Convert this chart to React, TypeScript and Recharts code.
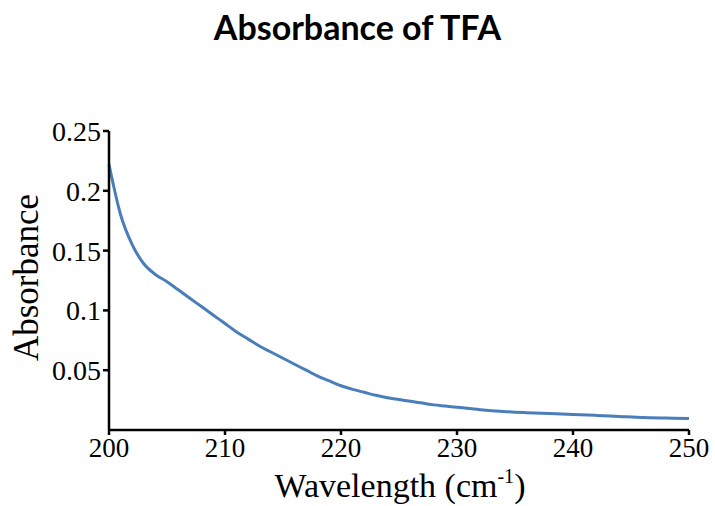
import { LineChart, Line, XAxis, YAxis, Label } from "recharts";

const wavelengths = [
  200, 201, 202, 203, 204, 205, 206, 207, 208, 209, 210, 211, 212, 213, 214, 215,
  216, 217, 218, 219, 220, 221, 222, 223, 224, 225, 226, 227, 228, 229, 230, 232,
  234, 236, 238, 240, 242, 244, 246, 248, 250,
];
const absorbance = [
  0.222, 0.18, 0.155, 0.139, 0.13, 0.124, 0.117, 0.11, 0.103, 0.096, 0.089, 0.082,
  0.076, 0.07, 0.065, 0.06, 0.055, 0.05, 0.045, 0.041, 0.037, 0.034, 0.0315, 0.029,
  0.027, 0.0255, 0.024, 0.0225, 0.021, 0.02, 0.019, 0.017, 0.0155, 0.0145, 0.0137, 0.013,
  0.0122, 0.0113, 0.0104, 0.01, 0.0097,
];
const xTicks = [200, 210, 220, 230, 240, 250];
const yTicks = [0.05, 0.1, 0.15, 0.2, 0.25];

const data = wavelengths.map((w, i) => ({ w, a: absorbance[i] }));

const serif = "'Liberation Serif', 'Times New Roman', serif";

const XTitle = () => (
  <text x={400} y={497} textAnchor="middle" fontFamily={serif} fontSize={34} fill="#000">
    <tspan>Wavelength (cm</tspan>
    <tspan fontSize={20} dy={-14}>-1</tspan>
    <tspan dy={14}>)</tspan>
  </text>
);

const YTitle = ({ viewBox }: any) => {
  const cy = viewBox.y + viewBox.height / 2;
  return (
    <text x={38} y={cy - 3} transform={`rotate(-90 38 ${cy - 3})`} textAnchor="middle"
      fontFamily={serif} fontSize={35} fill="#000">
      Absorbance
    </text>
  );
};

export default function App() {
  return (
    <div style={{ position: "absolute", left: 0, top: 0, width: 715, height: 506, background: "#fff" }}>
      <div style={{
        position: "absolute", left: 0, top: 6, width: 715, textAlign: "center",
        fontFamily: "Lato, 'Open Sans', sans-serif", fontWeight: 700, fontSize: 34, color: "#000",
      }}>
        Absorbance of TFA
      </div>
      <LineChart width={715} height={506} data={data}
        margin={{ top: 131, right: 26, bottom: 0, left: 0 }}>
        <XAxis dataKey="w" type="number" domain={[200, 250]} ticks={xTicks}
          height={76} tickSize={5} stroke="#000" strokeWidth={2.5}
          tick={{ fontFamily: serif, fontSize: 27, fill: "#000" }} tickMargin={3}>
          <Label content={<XTitle />} />
        </XAxis>
        <YAxis type="number" domain={[0, 0.25]} ticks={yTicks} width={109}
          tickSize={6} stroke="#000" strokeWidth={2.5}
          tick={{ fontFamily: serif, fontSize: 28, fill: "#000" }} tickMargin={2}>
          <Label content={<YTitle />} />
        </YAxis>
        <Line type="monotone" dataKey="a" stroke="#4a7ebb" strokeWidth={3}
          dot={false} isAnimationActive={false} />
      </LineChart>
    </div>
  );
}
